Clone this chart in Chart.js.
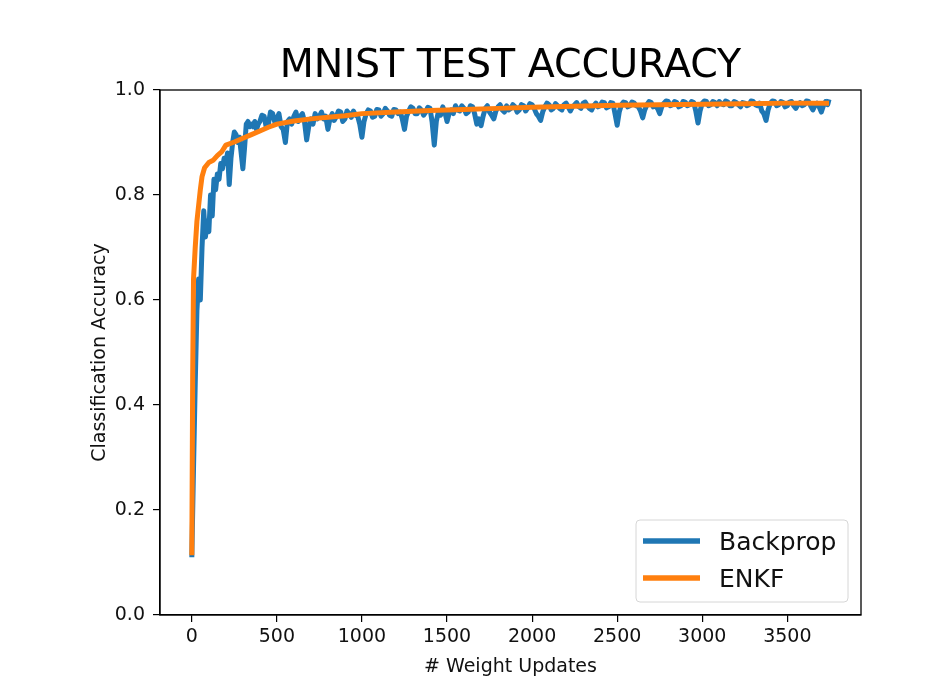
<!DOCTYPE html>
<html>
<head>
<meta charset="utf-8">
<script src="https://cdn.jsdelivr.net/npm/chart.js@4"></script>
<style>
  html, body { margin: 0; padding: 0; background: #fff; }
  #wrap { width: 945px; height: 695px; position: relative; }
</style>
</head>
<body>
<div id="wrap"><canvas id="acc-chart" width="945" height="695"></canvas></div>
<script>
// 圖表數據
const titleText = 'MNIST TEST ACCURACY';
const xAxisLabel = '# Weight Updates';
const yAxisLabel = 'Classification Accuracy';
const xTicks = [0, 500, 1000, 1500, 2000, 2500, 3000, 3500];
const yTicks = [0, 0.2, 0.4, 0.6, 0.8, 1.0];

const backpropSteps = [
    0, 10, 20, 30, 40, 50, 60, 70, 80, 90, 100, 110, 120, 130, 140, 150, 160, 170, 180, 190,
    200, 210, 220, 230, 240, 250, 260, 270, 280, 290, 300, 310, 320, 330, 340, 350, 360, 370, 380, 390,
    400, 412, 425, 437, 450, 462, 475, 487, 500, 512, 525, 537, 550, 562, 575, 587, 600, 612, 625, 637,
    650, 662, 675, 687, 700, 712, 725, 737, 750, 762, 775, 787, 800, 812, 825, 837, 850, 862, 875, 887,
    900, 912, 925, 937, 950, 962, 975, 987, 1000, 1012, 1025, 1037, 1050, 1062, 1075, 1087, 1100, 1112, 1125, 1137,
    1150, 1162, 1175, 1187, 1200, 1212, 1225, 1237, 1250, 1262, 1275, 1287, 1300, 1312, 1325, 1337, 1350, 1362, 1375, 1387,
    1400, 1412, 1425, 1437, 1450, 1462, 1475, 1487, 1500, 1512, 1525, 1537, 1550, 1562, 1575, 1587, 1600, 1612, 1625, 1637,
    1650, 1662, 1675, 1687, 1700, 1712, 1725, 1737, 1750, 1762, 1775, 1787, 1800, 1812, 1825, 1837, 1850, 1862, 1875, 1887,
    1900, 1912, 1925, 1937, 1950, 1962, 1975, 1987, 2000, 2012, 2025, 2037, 2050, 2062, 2075, 2087, 2100, 2112, 2125, 2137,
    2150, 2162, 2175, 2187, 2200, 2212, 2225, 2237, 2250, 2262, 2275, 2287, 2300, 2312, 2325, 2337, 2350, 2362, 2375, 2387,
    2400, 2412, 2425, 2437, 2450, 2462, 2475, 2487, 2500, 2512, 2525, 2537, 2550, 2562, 2575, 2587, 2600, 2612, 2625, 2637,
    2650, 2662, 2675, 2687, 2700, 2712, 2725, 2737, 2750, 2762, 2775, 2787, 2800, 2812, 2825, 2837, 2850, 2862, 2875, 2887,
    2900, 2912, 2925, 2937, 2950, 2962, 2975, 2987, 3000, 3012, 3025, 3037, 3050, 3062, 3075, 3087, 3100, 3112, 3125, 3137,
    3150, 3162, 3175, 3187, 3200, 3212, 3225, 3237, 3250, 3262, 3275, 3287, 3300, 3312, 3325, 3337, 3350, 3362, 3375, 3387,
    3400, 3412, 3425, 3437, 3450, 3462, 3475, 3487, 3500, 3512, 3525, 3537, 3550, 3562, 3575, 3587, 3600, 3612, 3625, 3637,
    3650, 3662, 3675, 3687, 3700, 3712, 3725, 3737, 3745,
];
const backpropAcc = [
    0.11, 0.28, 0.44, 0.58, 0.64, 0.60, 0.70, 0.77, 0.72, 0.75, 0.73, 0.80, 0.76, 0.83, 0.81, 0.84, 0.83, 0.86, 0.85, 0.87,
    0.86, 0.88, 0.82, 0.87, 0.90, 0.92, 0.915, 0.90, 0.91, 0.88, 0.85, 0.89, 0.935, 0.94, 0.93, 0.935, 0.93, 0.94, 0.925, 0.935,
    0.94, 0.952, 0.95, 0.93, 0.935, 0.958, 0.955, 0.94, 0.945, 0.955, 0.93, 0.925, 0.90, 0.94, 0.945, 0.935, 0.95, 0.958, 0.94, 0.95,
    0.955, 0.94, 0.905, 0.93, 0.945, 0.935, 0.955, 0.945, 0.95, 0.958, 0.945, 0.95, 0.925, 0.945, 0.955, 0.942, 0.95, 0.96, 0.958, 0.94,
    0.945, 0.96, 0.955, 0.948, 0.96, 0.952, 0.95, 0.935, 0.91, 0.94, 0.955, 0.962, 0.96, 0.948, 0.95, 0.963, 0.962, 0.95, 0.955, 0.965,
    0.96, 0.952, 0.95, 0.963, 0.962, 0.955, 0.958, 0.945, 0.925, 0.95, 0.96, 0.968, 0.965, 0.955, 0.955, 0.966, 0.962, 0.952, 0.958, 0.967,
    0.965, 0.94, 0.895, 0.94, 0.96, 0.952, 0.968, 0.958, 0.94, 0.955, 0.962, 0.955, 0.97, 0.962, 0.96, 0.97, 0.965, 0.955, 0.958, 0.97,
    0.968, 0.955, 0.935, 0.945, 0.932, 0.95, 0.965, 0.97, 0.958, 0.952, 0.945, 0.96, 0.968, 0.972, 0.962, 0.958, 0.97, 0.962, 0.965, 0.972,
    0.968, 0.958, 0.962, 0.972, 0.97, 0.96, 0.966, 0.974, 0.972, 0.965, 0.955, 0.95, 0.942, 0.958, 0.968, 0.975, 0.972, 0.962, 0.965, 0.974,
    0.97, 0.965, 0.962, 0.972, 0.975, 0.968, 0.96, 0.968, 0.972, 0.976, 0.968, 0.965, 0.975, 0.977, 0.97, 0.965, 0.962, 0.97, 0.975, 0.968,
    0.97, 0.977, 0.976, 0.966, 0.968, 0.976, 0.975, 0.955, 0.933, 0.958, 0.972, 0.977, 0.976, 0.968, 0.97, 0.977, 0.975, 0.97, 0.968, 0.96,
    0.947, 0.962, 0.972, 0.978, 0.976, 0.968, 0.97, 0.965, 0.955, 0.968, 0.975, 0.979, 0.978, 0.97, 0.972, 0.978, 0.976, 0.968, 0.97, 0.978,
    0.977, 0.97, 0.972, 0.978, 0.976, 0.96, 0.937, 0.96, 0.975, 0.979, 0.978, 0.97, 0.972, 0.978, 0.976, 0.97, 0.978, 0.974, 0.972, 0.979,
    0.977, 0.97, 0.97, 0.978, 0.976, 0.972, 0.968, 0.976, 0.975, 0.97, 0.972, 0.979, 0.978, 0.972, 0.97, 0.975, 0.96, 0.955, 0.942, 0.962,
    0.975, 0.979, 0.978, 0.97, 0.972, 0.978, 0.976, 0.968, 0.97, 0.977, 0.978, 0.97, 0.965, 0.972, 0.976, 0.97, 0.972, 0.979, 0.978, 0.97,
    0.962, 0.97, 0.975, 0.968, 0.958, 0.97, 0.978, 0.972, 0.982,
];

const enkfSteps = [
    0, 5, 10, 20, 30, 40, 50, 60, 75, 100, 125, 150, 175, 200, 250, 300, 350, 400, 450, 500,
    600, 700, 800, 900, 1000, 1200, 1400, 1600, 1800, 2000, 2250, 2500, 2750, 3000, 3250, 3500, 3745,
];
const enkfAcc = [
    0.114, 0.45, 0.64, 0.70, 0.75, 0.78, 0.81, 0.835, 0.852, 0.862, 0.866, 0.875, 0.882, 0.895, 0.901, 0.908, 0.915, 0.922, 0.929, 0.935,
    0.941, 0.945, 0.948, 0.951, 0.955, 0.958, 0.961, 0.963, 0.965, 0.967, 0.969, 0.971, 0.972, 0.973, 0.974, 0.975, 0.975,
];

const seriesNames = ['Backprop', 'ENKF'];
const seriesColors = ['#1f77b4', '#ff7f0e'];

const FONT = '"DejaVu Sans", "Liberation Sans", sans-serif';

function toPoints(xs, ys) {
    return xs.map((x, i) => ({ x: x, y: ys[i] }));
}

// 標題、外框、座標軸標題與圖例
const decorPlugin = {
    id: 'decor',
    afterDraw(chart) {
        const { ctx, chartArea: a } = chart;
        ctx.save();

        // 外框
        ctx.strokeStyle = '#000';
        ctx.lineWidth = 1.3;
        ctx.strokeRect(a.left, a.top, a.right - a.left, a.bottom - a.top);

        // 標題
        ctx.fillStyle = '#000';
        ctx.font = '39.5px ' + FONT;
        ctx.textAlign = 'center';
        ctx.textBaseline = 'alphabetic';
        ctx.fillText(titleText, (a.left + a.right) / 2, 77);

        // 座標軸標題
        ctx.font = '19px ' + FONT;
        ctx.fillStyle = '#111';
        ctx.fillText(xAxisLabel, (a.left + a.right) / 2, 672);
        ctx.save();
        ctx.translate(105, (a.top + a.bottom) / 2);
        ctx.rotate(-Math.PI / 2);
        ctx.fillText(yAxisLabel, 0, 0);
        ctx.restore();

        // 圖例
        const bx = 636, by = 520, bw = 212, bh = 82;
        ctx.beginPath();
        ctx.roundRect(bx, by, bw, bh, 4);
        ctx.fillStyle = 'rgba(255,255,255,0.8)';
        ctx.fill();
        ctx.strokeStyle = '#d6d6d6';
        ctx.lineWidth = 1;
        ctx.stroke();

        const rows = [541, 578];
        ctx.font = '25px ' + FONT;
        ctx.textAlign = 'left';
        seriesNames.forEach((name, i) => {
            ctx.beginPath();
            ctx.moveTo(643, rows[i]);
            ctx.lineTo(700, rows[i]);
            ctx.strokeStyle = seriesColors[i];
            ctx.lineWidth = 5.5;
            ctx.stroke();
            ctx.fillStyle = '#111';
            ctx.fillText(name, 719, rows[i] + 9);
        });

        ctx.restore();
    },
};

const ctx = document.getElementById('acc-chart');
const accChart = new Chart(ctx, {
    type: 'line',
    data: {
        datasets: [
            {
                label: seriesNames[0],
                data: toPoints(backpropSteps, backpropAcc),
                borderColor: seriesColors[0],
                borderWidth: 5,
                borderJoinStyle: 'round',
                pointRadius: 0,
                tension: 0,
                order: 2,
            },
            {
                label: seriesNames[1],
                data: toPoints(enkfSteps, enkfAcc),
                borderColor: seriesColors[1],
                borderWidth: 5,
                borderJoinStyle: 'round',
                pointRadius: 0,
                tension: 0,
                order: 1,
            },
        ],
    },
    options: {
        responsive: false,
        animation: false,
        devicePixelRatio: 1,
        layout: {
            padding: { top: 90, right: 84, left: 0, bottom: 0 },
        },
        plugins: {
            legend: { display: false },
            title: { display: false },
            tooltip: { enabled: false },
        },
        scales: {
            x: {
                type: 'linear',
                min: -187,
                max: 3933,
                afterBuildTicks: (s) => {
                    s.ticks = xTicks.map((v) => ({ value: v }));
                },
                afterFit: (s) => {
                    s.height = 80;
                },
                grid: {
                    drawOnChartArea: false,
                    drawTicks: true,
                    tickLength: 7,
                    color: '#000',
                    lineWidth: 1.2,
                },
                border: { display: true, color: '#000', width: 1.3 },
                ticks: {
                    font: { family: FONT, size: 19 },
                    color: '#111',
                    padding: 4,
                    maxRotation: 0,
                    callback: (v) => String(v),
                },
            },
            y: {
                type: 'linear',
                min: 0,
                max: 1.0,
                afterBuildTicks: (s) => {
                    s.ticks = yTicks.map((v) => ({ value: v }));
                },
                afterFit: (s) => {
                    s.width = 160;
                },
                grid: {
                    drawOnChartArea: false,
                    drawTicks: true,
                    tickLength: 7,
                    color: '#000',
                    lineWidth: 1.2,
                },
                border: { display: true, color: '#000', width: 1.3 },
                ticks: {
                    font: { family: FONT, size: 19 },
                    color: '#111',
                    padding: 8,
                    callback: (v) => v.toFixed(1),
                },
            },
        },
    },
    plugins: [decorPlugin],
});
</script>
</body>
</html>
